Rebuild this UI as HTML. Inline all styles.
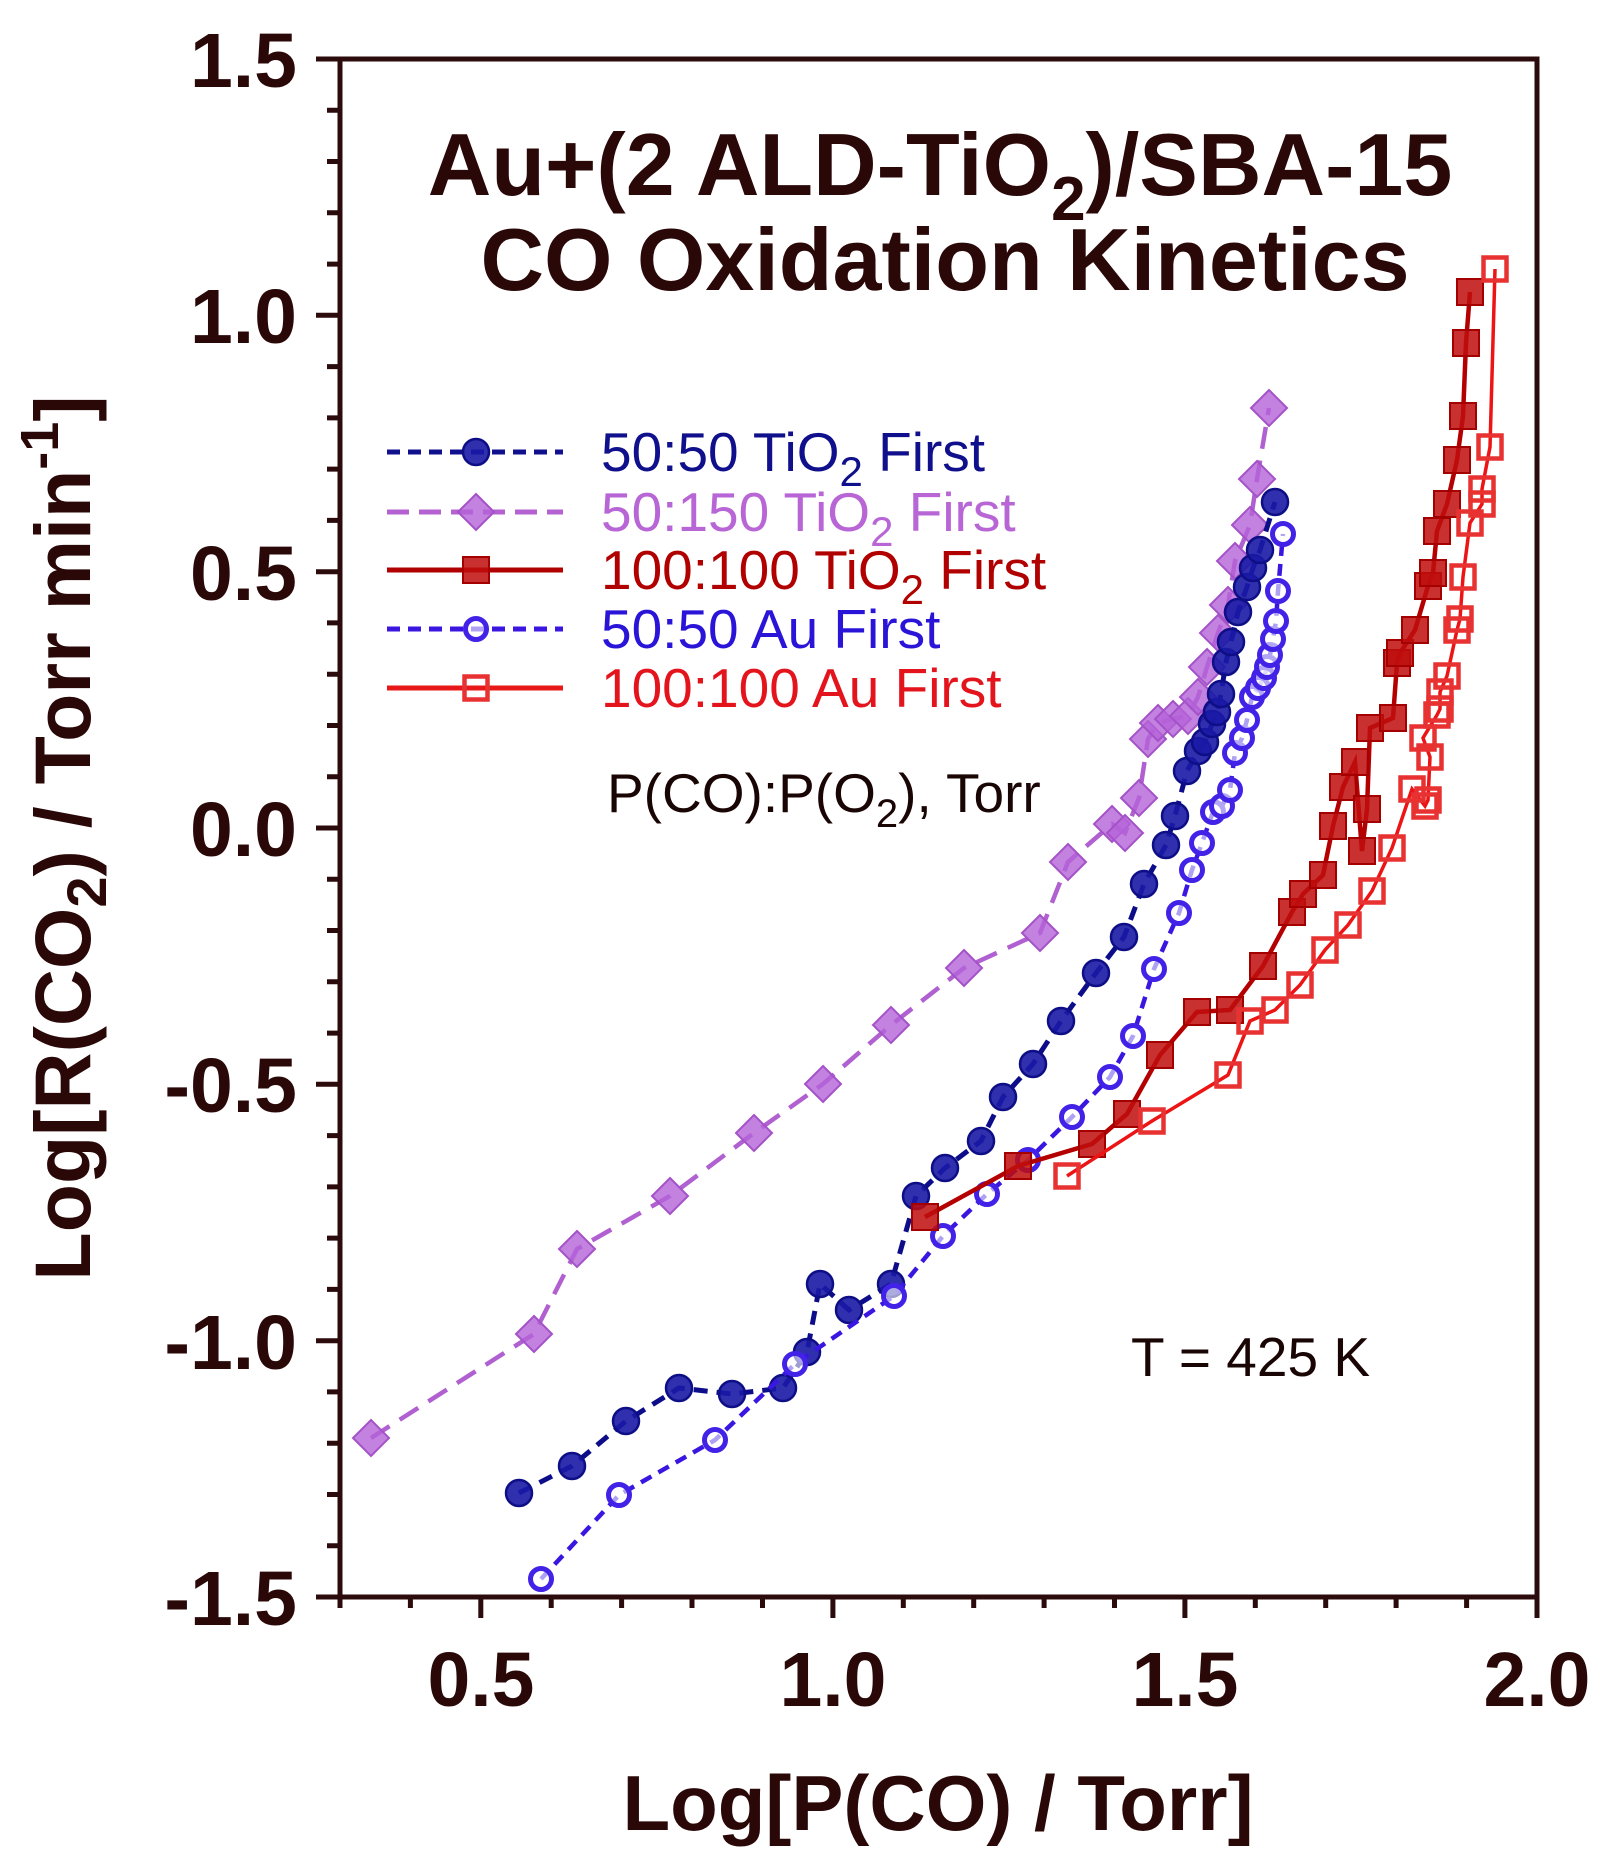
<!DOCTYPE html>
<html>
<head>
<meta charset="utf-8">
<style>
  html,body{margin:0;padding:0;background:#fff;}
  svg{display:block;}
  text{font-family:"Liberation Sans", Arial, sans-serif;}
</style>
</head>
<body>
<svg width="1610" height="1872" viewBox="0 0 1610 1872" xmlns="http://www.w3.org/2000/svg">
  <defs>
    <g id="fc"><circle r="13" fill="#1a1aa6" fill-opacity="0.9" stroke="#0e0e86" stroke-width="2.5"/></g>
    <g id="oc"><circle r="10.5" fill="#ffffff" fill-opacity="0.6" stroke="#4222e6" stroke-width="5"/></g>
    <g id="dm"><path d="M0,-18 L18,0 L0,18 L-18,0 Z" fill="#b563d8" fill-opacity="0.8" stroke="#a452c8" stroke-width="2"/></g>
    <g id="fs"><rect x="-13" y="-13" width="26" height="26" fill="#bf0d0d" fill-opacity="0.85" stroke="#a40000" stroke-width="2"/></g>
    <g id="os"><rect x="-11.5" y="-11.5" width="23" height="23" fill="none" stroke="#e83232" stroke-width="4.5"/></g>
  </defs>
  <rect width="1610" height="1872" fill="#fff"/>

  <!-- Title -->
  <text x="940" y="195" font-size="88" font-weight="bold" fill="#2a0808" text-anchor="middle">Au+(2 ALD-TiO<tspan font-size="62" dy="25">2</tspan><tspan dy="-25">)/SBA-15</tspan></text>
  <text x="945" y="290" font-size="88" font-weight="bold" fill="#2a0808" text-anchor="middle">CO Oxidation Kinetics</text>

  <!-- Axes frame -->
  <g stroke="#2b0b0b" stroke-width="5" fill="none" stroke-linecap="square">
    <path d="M340,59 L1537,59 M340,59 L340,1597 M340,1597 L1537,1597 M1537,59 L1537,1597"/>
  </g>
  <!-- Y ticks -->
  <g stroke="#2b0b0b" stroke-width="5" fill="none">
    <path d="M316,59H340 M316,315.3H340 M316,571.7H340 M316,828H340 M316,1084.3H340 M316,1340.7H340 M316,1597H340"/>
    <path d="M327,110.3H340 M327,161.5H340 M327,212.8H340 M327,264.1H340 M327,366.6H340 M327,417.9H340 M327,469.1H340 M327,520.4H340 M327,622.9H340 M327,674.2H340 M327,725.5H340 M327,776.7H340 M327,879.3H340 M327,930.5H340 M327,981.8H340 M327,1033.1H340 M327,1135.6H340 M327,1186.9H340 M327,1238.1H340 M327,1289.4H340 M327,1391.9H340 M327,1443.2H340 M327,1494.5H340 M327,1545.7H340"/>
    <!-- X ticks -->
    <path d="M480.8,1597V1618 M832.9,1597V1618 M1184.9,1597V1618 M1537,1597V1618"/>
    <path d="M340,1597V1608 M410.4,1597V1608 M551.2,1597V1608 M621.6,1597V1608 M692,1597V1608 M762.5,1597V1608 M903.3,1597V1608 M973.7,1597V1608 M1044.1,1597V1608 M1114.5,1597V1608 M1255.3,1597V1608 M1325.7,1597V1608 M1396.1,1597V1608 M1466.6,1597V1608"/>
  </g>

  <!-- Y tick labels -->
  <g font-size="77" font-weight="bold" fill="#2a0808" text-anchor="end">
    <text x="297" y="87">1.5</text>
    <text x="297" y="343">1.0</text>
    <text x="297" y="600">0.5</text>
    <text x="297" y="856">0.0</text>
    <text x="297" y="1112">-0.5</text>
    <text x="297" y="1369">-1.0</text>
    <text x="297" y="1625">-1.5</text>
  </g>
  <!-- X tick labels -->
  <g font-size="77" font-weight="bold" fill="#2a0808" text-anchor="middle">
    <text x="481" y="1706">0.5</text>
    <text x="833" y="1706">1.0</text>
    <text x="1185" y="1706">1.5</text>
    <text x="1537" y="1706">2.0</text>
  </g>

  <!-- Axis titles -->
  <text x="938" y="1830" font-size="78" font-weight="bold" fill="#2a0808" text-anchor="middle">Log[P(CO) / Torr]</text>
  <text transform="translate(90,838) rotate(-90)" font-size="79" font-weight="bold" fill="#2a0808" text-anchor="middle">Log[R(CO<tspan font-size="56" dy="16">2</tspan><tspan dy="-16">) / Torr min</tspan><tspan font-size="54" dy="-32">-1</tspan><tspan dy="32">]</tspan></text>

  <!-- Annotations -->
  <text x="607" y="812" font-size="55" fill="#1a0505">P(CO):P(O<tspan font-size="40" dy="15">2</tspan><tspan dy="-15">), Torr</tspan></text>
  <text x="1131" y="1376" font-size="55" fill="#1a0505">T = 425 K</text>

  <!-- Legend -->
  <g>
    <line x1="387" y1="452" x2="563" y2="452" stroke="#10108e" stroke-width="5" stroke-dasharray="13 8"/>
    <use href="#fc" x="476" y="452"/>
    <text x="601" y="471" font-size="55" fill="#10108c">50:50 TiO<tspan font-size="42" dy="15">2</tspan><tspan dy="-15"> First</tspan></text>

    <line x1="387" y1="512" x2="563" y2="512" stroke="#b462d2" stroke-width="5" stroke-dasharray="22 10"/>
    <use href="#dm" x="476" y="512"/>
    <text x="601" y="531" font-size="55" fill="#b866d6">50:150 TiO<tspan font-size="42" dy="15">2</tspan><tspan dy="-15"> First</tspan></text>

    <line x1="387" y1="570" x2="563" y2="570" stroke="#b00000" stroke-width="5"/>
    <use href="#fs" x="476" y="570"/>
    <text x="601" y="589" font-size="55" fill="#b00000">100:100 TiO<tspan font-size="42" dy="15">2</tspan><tspan dy="-15"> First</tspan></text>

    <line x1="387" y1="629" x2="563" y2="629" stroke="#3a16e0" stroke-width="5" stroke-dasharray="13 8"/>
    <use href="#oc" x="476" y="629"/>
    <text x="601" y="648" font-size="55" fill="#2a14d8">50:50 Au First</text>

    <line x1="387" y1="688" x2="563" y2="688" stroke="#e81818" stroke-width="5"/>
    <use href="#os" x="476" y="688"/>
    <text x="601" y="707" font-size="55" fill="#e4141c">100:100 Au First</text>
  </g>

  <!-- Series: 50:150 TiO2 First (purple diamonds) -->
  <polyline fill="none" stroke="#b060d0" stroke-width="4.5" stroke-dasharray="22 12"
    points="371,1438 534,1334 577,1249 670,1196 754,1133 823,1084 891,1025 964,968 1040,933 1068,862 1112,824 1125,833 1139,798 1148,739 1158,723 1173,719 1188,716 1198,697 1207,667 1218,633 1228,605 1235,561 1250,525 1257,479 1269,408"/>
  <g>
    <use href="#dm" x="371" y="1438"/><use href="#dm" x="534" y="1334"/><use href="#dm" x="577" y="1249"/>
    <use href="#dm" x="670" y="1196"/><use href="#dm" x="754" y="1133"/><use href="#dm" x="823" y="1084"/>
    <use href="#dm" x="891" y="1025"/><use href="#dm" x="964" y="968"/><use href="#dm" x="1040" y="933"/>
    <use href="#dm" x="1068" y="862"/><use href="#dm" x="1112" y="824"/><use href="#dm" x="1125" y="833"/>
    <use href="#dm" x="1139" y="798"/><use href="#dm" x="1148" y="739"/><use href="#dm" x="1158" y="723"/>
    <use href="#dm" x="1173" y="719"/><use href="#dm" x="1188" y="716"/><use href="#dm" x="1198" y="697"/>
    <use href="#dm" x="1207" y="667"/><use href="#dm" x="1218" y="633"/><use href="#dm" x="1228" y="605"/>
    <use href="#dm" x="1235" y="561"/><use href="#dm" x="1250" y="525"/><use href="#dm" x="1257" y="479"/>
    <use href="#dm" x="1269" y="408"/>
  </g>

  <!-- Series: 50:50 TiO2 First (filled blue circles) -->
  <polyline fill="none" stroke="#0d0d8a" stroke-width="5" stroke-dasharray="14 9"
    points="519,1493 572,1466 626,1421 679,1388 732,1394 783,1388 807,1352 820,1284 849,1310 891,1284 916,1196 945,1168 981,1141 1003,1097 1033,1064 1061,1021 1096,973 1124,937 1144,884 1166,845 1175,816 1187,771 1198,751 1205,742 1212,724 1217,712 1221,694 1226,662 1231,642 1238,612 1247,587 1253,568 1260,550 1275,502"/>
  <g>
    <use href="#fc" x="519" y="1493"/><use href="#fc" x="572" y="1466"/><use href="#fc" x="626" y="1421"/>
    <use href="#fc" x="679" y="1388"/><use href="#fc" x="732" y="1394"/><use href="#fc" x="783" y="1388"/>
    <use href="#fc" x="807" y="1352"/><use href="#fc" x="820" y="1284"/><use href="#fc" x="849" y="1310"/>
    <use href="#fc" x="891" y="1284"/><use href="#fc" x="916" y="1196"/><use href="#fc" x="945" y="1168"/>
    <use href="#fc" x="981" y="1141"/><use href="#fc" x="1003" y="1097"/><use href="#fc" x="1033" y="1064"/>
    <use href="#fc" x="1061" y="1021"/><use href="#fc" x="1096" y="973"/><use href="#fc" x="1124" y="937"/>
    <use href="#fc" x="1144" y="884"/><use href="#fc" x="1166" y="845"/><use href="#fc" x="1175" y="816"/>
    <use href="#fc" x="1187" y="771"/><use href="#fc" x="1198" y="751"/><use href="#fc" x="1205" y="742"/>
    <use href="#fc" x="1212" y="724"/><use href="#fc" x="1217" y="712"/><use href="#fc" x="1221" y="694"/>
    <use href="#fc" x="1226" y="662"/><use href="#fc" x="1231" y="642"/><use href="#fc" x="1238" y="612"/>
    <use href="#fc" x="1247" y="587"/><use href="#fc" x="1253" y="568"/><use href="#fc" x="1260" y="550"/>
    <use href="#fc" x="1275" y="502"/>
  </g>

  <!-- Series: 50:50 Au First (open blue circles) -->
  <polyline fill="none" stroke="#3a16e0" stroke-width="4.5" stroke-dasharray="12 8"
    points="541,1579 619,1495 715,1440 795,1364 894,1296 943,1236 987,1194 1028,1160 1072,1117 1110,1077 1133,1036 1154,969 1179,913 1192,870 1202,843 1213,812 1222,806 1230,790 1235,753 1242,738 1247,720 1252,697 1258,688 1264,678 1267,667 1270,655 1273,639 1276,621 1278,591 1283,534"/>
  <g>
    <use href="#oc" x="541" y="1579"/><use href="#oc" x="619" y="1495"/><use href="#oc" x="715" y="1440"/>
    <use href="#oc" x="795" y="1364"/><use href="#oc" x="894" y="1296"/><use href="#oc" x="943" y="1236"/>
    <use href="#oc" x="987" y="1194"/><use href="#oc" x="1028" y="1160"/><use href="#oc" x="1072" y="1117"/>
    <use href="#oc" x="1110" y="1077"/><use href="#oc" x="1133" y="1036"/><use href="#oc" x="1154" y="969"/>
    <use href="#oc" x="1179" y="913"/><use href="#oc" x="1192" y="870"/><use href="#oc" x="1202" y="843"/>
    <use href="#oc" x="1213" y="812"/><use href="#oc" x="1222" y="806"/><use href="#oc" x="1230" y="790"/>
    <use href="#oc" x="1235" y="753"/><use href="#oc" x="1242" y="738"/><use href="#oc" x="1247" y="720"/>
    <use href="#oc" x="1252" y="697"/><use href="#oc" x="1258" y="688"/><use href="#oc" x="1264" y="678"/>
    <use href="#oc" x="1267" y="667"/><use href="#oc" x="1270" y="655"/><use href="#oc" x="1273" y="639"/>
    <use href="#oc" x="1276" y="621"/><use href="#oc" x="1278" y="591"/><use href="#oc" x="1283" y="534"/>
  </g>

  <!-- Series: 100:100 TiO2 First (filled red squares) -->
  <polyline fill="none" stroke="#b40000" stroke-width="4.5"
    points="925,1217 1018,1166 1092,1144 1127,1114 1160,1055 1197,1012 1230,1010 1263,966 1292,912 1303,894 1323,875 1333,826 1343,787 1355,762 1362,851 1367,809 1370,728 1393,718 1397,663 1400,653 1415,630 1428,586 1433,573 1437,531 1447,504 1457,460 1463,416 1466,343 1470,292"/>
  <g>
    <use href="#fs" x="925" y="1217"/><use href="#fs" x="1018" y="1166"/><use href="#fs" x="1092" y="1144"/>
    <use href="#fs" x="1127" y="1114"/><use href="#fs" x="1160" y="1055"/><use href="#fs" x="1197" y="1012"/>
    <use href="#fs" x="1230" y="1010"/><use href="#fs" x="1263" y="966"/><use href="#fs" x="1292" y="912"/>
    <use href="#fs" x="1303" y="894"/><use href="#fs" x="1323" y="875"/><use href="#fs" x="1333" y="826"/>
    <use href="#fs" x="1343" y="787"/><use href="#fs" x="1355" y="762"/><use href="#fs" x="1362" y="851"/>
    <use href="#fs" x="1367" y="809"/><use href="#fs" x="1370" y="728"/><use href="#fs" x="1393" y="718"/>
    <use href="#fs" x="1397" y="663"/><use href="#fs" x="1400" y="653"/><use href="#fs" x="1415" y="630"/>
    <use href="#fs" x="1428" y="586"/><use href="#fs" x="1433" y="573"/><use href="#fs" x="1437" y="531"/>
    <use href="#fs" x="1447" y="504"/><use href="#fs" x="1457" y="460"/><use href="#fs" x="1463" y="416"/>
    <use href="#fs" x="1466" y="343"/><use href="#fs" x="1470" y="292"/>
  </g>

  <!-- Series: 100:100 Au First (open red squares) -->
  <polyline fill="none" stroke="#ec1414" stroke-width="3.5"
    points="1067,1176 1152,1121 1228,1075 1250,1021 1275,1010 1300,985 1325,950 1348,925 1372,891 1392,848 1412,789 1425,806 1428,800 1430,757 1423,738 1437,715 1440,709 1440,692 1447,676 1457,630 1460,619 1463,577 1470,523 1482,504 1482,489 1490,447 1495,269"/>
  <g>
    <use href="#os" x="1067" y="1176"/><use href="#os" x="1152" y="1121"/><use href="#os" x="1228" y="1075"/>
    <use href="#os" x="1250" y="1021"/><use href="#os" x="1275" y="1010"/><use href="#os" x="1300" y="985"/>
    <use href="#os" x="1325" y="950"/><use href="#os" x="1348" y="925"/><use href="#os" x="1372" y="891"/>
    <use href="#os" x="1392" y="848"/><use href="#os" x="1412" y="789"/><use href="#os" x="1425" y="806"/>
    <use href="#os" x="1428" y="800"/><use href="#os" x="1430" y="757"/><use href="#os" x="1423" y="738"/>
    <use href="#os" x="1437" y="715"/><use href="#os" x="1440" y="709"/><use href="#os" x="1440" y="692"/>
    <use href="#os" x="1447" y="676"/><use href="#os" x="1457" y="630"/><use href="#os" x="1460" y="619"/>
    <use href="#os" x="1463" y="577"/><use href="#os" x="1470" y="523"/><use href="#os" x="1482" y="504"/>
    <use href="#os" x="1482" y="489"/><use href="#os" x="1490" y="447"/><use href="#os" x="1495" y="269"/>
  </g>
</svg>
</body>
</html>
